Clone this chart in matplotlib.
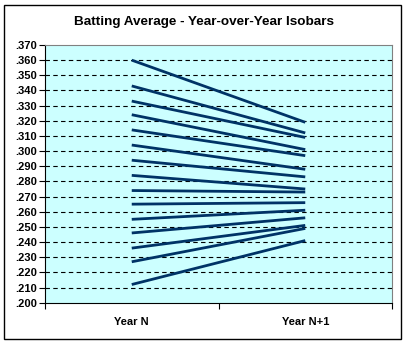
import numpy as np
import matplotlib
matplotlib.use("Agg")
import matplotlib.pyplot as plt
from matplotlib.patches import Rectangle

# batting average isobars: value in year N -> expected value in year N+1
categories = ["Year N", "Year N+1"]
year_n = [.360, .343, .333, .324, .314, .304, .294, .284,
          .274, .265, .255, .246, .236, .227, .212]
year_n1 = [.319, .312, .309, .301, .297, .288, .283, .275,
           .273, .266, .261, .256, .251, .249, .241]
yticks = np.arange(0.200, 0.3701, 0.010)

plt.rcParams["font.family"] = ["Liberation Sans", "DejaVu Sans"]
plt.rcParams["font.weight"] = "bold"

fig = plt.figure(figsize=(4.08, 3.46), dpi=100)
ax = fig.add_axes([45 / 408, 1 - 302.7 / 346, 347 / 408, 257.7 / 346])

# outer chart border
fig.patches.append(Rectangle((4 / 408, 1 - 339 / 346), 397 / 408, 334 / 346,
                             transform=fig.transFigure, fill=False,
                             edgecolor="black", linewidth=1.0))

ax.set_facecolor("#ccffff")
x = np.arange(len(categories))
for a, b in zip(year_n, year_n1):
    ax.plot(x, [a, b], color="#003366", linewidth=2.0, solid_capstyle="butt", zorder=3)

ax.set_xlim(-0.5, 1.5)
ax.set_ylim(0.200, 0.370)

for v in yticks[1:-1]:
    ax.axhline(v, color="black", linewidth=0.8, linestyle=(0, (4, 3)), zorder=1)

ax.set_yticks(yticks)
ax.set_yticklabels(["." + f"{v:.3f}".split(".")[1] for v in yticks])
ax.tick_params(axis="y", direction="out", length=4, width=0.8, labelsize=8, pad=2)

ax.set_xticks(x)
ax.set_xticklabels(categories)
ax.set_xticks([-0.5, 0.5, 1.5], minor=True)
ax.tick_params(axis="x", which="major", length=0, labelsize=8, pad=10)
ax.tick_params(axis="x", which="minor", direction="out", length=4, width=0.8)

for s in ["top", "right"]:
    ax.spines[s].set_color("#808080")
    ax.spines[s].set_linewidth(0.8)
for s in ["left", "bottom"]:
    ax.spines[s].set_color("black")
    ax.spines[s].set_linewidth(0.8)

fig.text(204 / 408, 1 - 22 / 346, "Batting Average - Year-over-Year Isobars",
         ha="center", va="center", fontsize=9.7, fontweight="bold")

fig.savefig("out.png", dpi=100)
